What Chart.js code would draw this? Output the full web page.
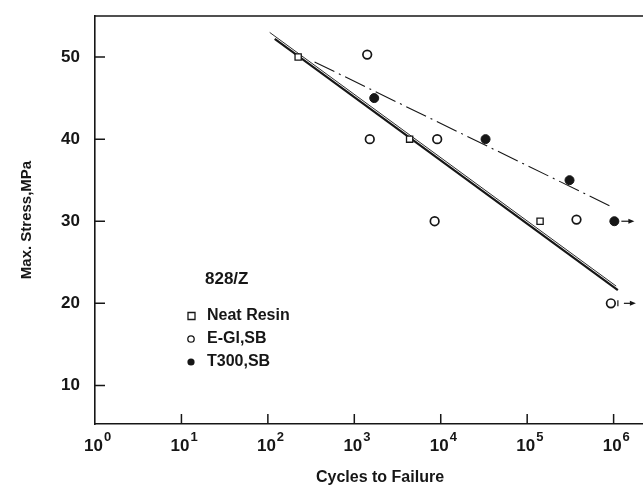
<!DOCTYPE html>
<html>
<head>
<meta charset="utf-8">
<script src="https://cdn.jsdelivr.net/npm/chart.js@4/dist/chart.umd.min.js"></script>
<style>
  html, body { margin: 0; padding: 0; background: #fff; overflow: hidden; }
  #wrap { width: 643px; height: 494px; }
</style>
</head>
<body>
<div id="wrap"><canvas id="sn"></canvas></div>
<script>
// data (cycles on a log axis, stress in MPa)
const neatX = [224, 4365, 141000];
const neatY = [50, 40, 30];
const eglX = [1410, 1510, 9100, 8500, 372000, 930000];
const eglY = [50.3, 40, 40, 30, 30.2, 20];
const eglRunout = [false, false, false, false, false, true];
const t300X = [1700, 33000, 309000, 1020000];
const t300Y = [45, 40, 35, 30];
const t300Runout = [false, false, false, true];

// fitted lines
const neatFitX = [120, 1120000];
const neatFitY = [52.2, 21.6];
const neatFit2X = [105, 1070000];
const neatFit2Y = [53.0, 22.1];
const t300FitX = [347, 977000];
const t300FitY = [49.4, 31.7];

const xTickExp = [0, 1, 2, 3, 4, 5, 6];
const yTicks = [10, 20, 30, 40, 50];
const legendTitle = '828/Z';

const ink = '#161616';
const font = 'Liberation Sans, Arial, sans-serif';

function pts(xs, ys) {
    return xs.map((v, i) => ({ x: v, y: ys[i] }));
}

function noPad(scale) {
    scale.paddingTop = 0;
    scale.paddingBottom = 0;
    scale.paddingLeft = 0;
    scale.paddingRight = 0;
}

const decor = {
    id: 'decor',
    afterDraw(chart) {
        const { ctx, chartArea: a, scales: { x, y } } = chart;
        ctx.save();
        ctx.strokeStyle = ink;
        ctx.fillStyle = ink;
        ctx.lineWidth = 1.5;

        // top frame line
        ctx.beginPath();
        ctx.moveTo(a.left, a.top);
        ctx.lineTo(chart.width, a.top);
        ctx.stroke();

        // inward tick marks
        ctx.beginPath();
        yTicks.forEach(v => {
            const py = y.getPixelForValue(v);
            ctx.moveTo(a.left, py);
            ctx.lineTo(a.left + 10, py);
        });
        xTickExp.forEach(e => {
            if (e === 0) return;
            const px = x.getPixelForValue(Math.pow(10, e));
            ctx.moveTo(px, a.bottom);
            ctx.lineTo(px, a.bottom - 10);
        });
        ctx.stroke();

        // x tick labels as 10 with a raised exponent
        xTickExp.forEach(e => {
            const px = x.getPixelForValue(Math.pow(10, e));
            ctx.font = 'bold 17px ' + font;
            ctx.textAlign = 'right';
            ctx.textBaseline = 'alphabetic';
            ctx.fillText('10', px + 8, a.bottom + 27);
            ctx.font = 'bold 13px ' + font;
            ctx.textAlign = 'left';
            ctx.fillText(String(e), px + 9, a.bottom + 17);
        });

        // run-out arrows
        const arrow = (x0, x1, py) => {
            ctx.lineWidth = 1.2;
            ctx.beginPath();
            ctx.moveTo(x0, py);
            ctx.lineTo(x1 - 4, py);
            ctx.stroke();
            ctx.beginPath();
            ctx.moveTo(x1, py);
            ctx.lineTo(x1 - 6, py - 2.5);
            ctx.lineTo(x1 - 6, py + 2.5);
            ctx.closePath();
            ctx.fill();
        };
        t300X.forEach((v, i) => {
            if (!t300Runout[i]) return;
            const px = x.getPixelForValue(v), py = y.getPixelForValue(t300Y[i]);
            arrow(px + 7, px + 20, py);
        });
        eglX.forEach((v, i) => {
            if (!eglRunout[i]) return;
            const px = x.getPixelForValue(v), py = y.getPixelForValue(eglY[i]);
            ctx.lineWidth = 1.2;
            ctx.beginPath();
            ctx.moveTo(px + 7, py - 3);
            ctx.lineTo(px + 7, py + 3);
            ctx.stroke();
            arrow(px + 13, px + 25, py);
        });

        // legend inside the plot
        ctx.font = 'bold 17px ' + font;
        ctx.textAlign = 'left';
        ctx.textBaseline = 'middle';
        ctx.fillText(legendTitle, 205, 279);
        const items = chart.data.datasets.filter(d => d.inLegend);
        items.forEach((d, i) => {
            const ly = 316 + i * 23;
            ctx.lineWidth = 1.3;
            ctx.beginPath();
            if (d.pointStyle === 'rect') {
                ctx.rect(188, ly - 3.5, 7, 7);
                ctx.stroke();
            } else {
                ctx.arc(191, ly, d.backgroundColor === ink ? 3.6 : 3.2, 0, Math.PI * 2);
                if (d.backgroundColor === ink) ctx.fill(); else ctx.stroke();
            }
            ctx.font = 'bold 16px ' + font;
            ctx.fillText(d.label, 207, ly);
        });

        // axis title sits a little right of the plot centre in the original
        ctx.font = 'bold 16px ' + font;
        ctx.textAlign = 'center';
        ctx.fillText(x.options.title.text, 380, 478);
        ctx.restore();
    }
};

new Chart('sn', {
    type: 'scatter',
    data: {
        datasets: [
            {
                label: 'Neat Resin', inLegend: true,
                data: pts(neatX, neatY),
                pointStyle: 'rect', pointRadius: 4.4,
                backgroundColor: '#fff', borderColor: ink, borderWidth: 1.3
            },
            {
                label: 'E-Gl,SB', inLegend: true,
                data: pts(eglX, eglY),
                pointStyle: 'circle', pointRadius: 4.3,
                backgroundColor: '#fff', borderColor: ink, borderWidth: 1.7
            },
            {
                label: 'T300,SB', inLegend: true,
                data: pts(t300X, t300Y),
                pointStyle: 'circle', pointRadius: 4.5,
                backgroundColor: ink, borderColor: ink, borderWidth: 1
            },
            {
                label: 'neat fit', data: pts(neatFitX, neatFitY),
                showLine: true, pointRadius: 0, borderColor: ink, borderWidth: 2.2
            },
            {
                label: 'neat fit 2', data: pts(neatFit2X, neatFit2Y),
                showLine: true, pointRadius: 0, borderColor: ink, borderWidth: 0.9
            },
            {
                label: 't300 fit', data: pts(t300FitX, t300FitY),
                showLine: true, pointRadius: 0, borderColor: ink, borderWidth: 1.1,
                borderDash: [22, 5, 2, 5]
            }
        ]
    },
    options: {
        responsive: true,
        maintainAspectRatio: false,
        animation: false,
        layout: { autoPadding: false, padding: { top: 16, right: 0, left: 0, bottom: 0 } },
        plugins: {
            legend: { display: false },
            tooltip: { enabled: false }
        },
        scales: {
            x: {
                type: 'logarithmic',
                min: 1,
                max: Math.pow(10, 6.34),
                grid: { display: false, drawTicks: false },
                border: { display: true, color: ink, width: 1.6 },
                ticks: { display: false },
                afterFit(scale) { scale.height = 70; noPad(scale); },
                title: { display: false, text: 'Cycles to Failure' }
            },
            y: {
                min: 5.3,
                max: 55,
                grid: { display: false, drawTicks: false },
                border: { display: true, color: ink, width: 1.6 },
                afterBuildTicks(scale) { scale.ticks = yTicks.map(v => ({ value: v })); },
                afterFit(scale) { scale.width = 95; noPad(scale); },
                ticks: {
                    color: ink,
                    padding: 15,
                    font: { family: font, size: 17, weight: 'bold' }
                },
                title: {
                    display: true,
                    text: 'Max. Stress,MPa',
                    color: ink,
                    font: { family: font, size: 15, weight: 'bold' },
                    padding: { top: 18, bottom: 0 }
                }
            }
        }
    },
    plugins: [decor]
});
</script>
</body>
</html>
